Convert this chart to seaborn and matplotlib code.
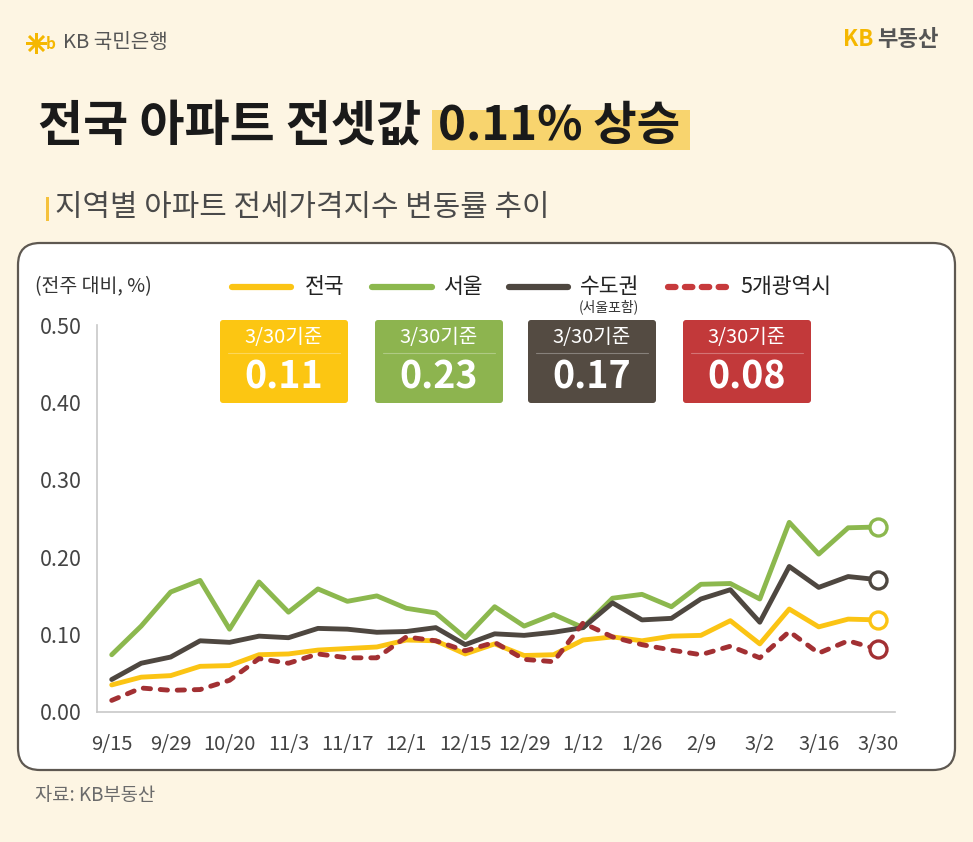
import numpy as np
import pandas as pd
import matplotlib
matplotlib.use("Agg")
import matplotlib.pyplot as plt
import seaborn as sns
from matplotlib.patches import FancyBboxPatch, Rectangle
from matplotlib.lines import Line2D
from matplotlib.transforms import IdentityTransform

# ---------------- data ----------------
dates = ['9/15', '9/22', '9/29', '10/13', '10/20', '10/27', '11/3', '11/10', '11/17',
         '11/24', '12/1', '12/8', '12/15', '12/22', '12/29', '1/5', '1/12', '1/19',
         '1/26', '2/2', '2/9', '2/23', '3/2', '3/9', '3/16', '3/23', '3/30']
national = [0.035, 0.045, 0.047, 0.059, 0.060, 0.074, 0.075, 0.080, 0.082, 0.084, 0.093,
            0.092, 0.075, 0.088, 0.073, 0.074, 0.093, 0.097, 0.092, 0.098, 0.099, 0.118,
            0.088, 0.133, 0.110, 0.120, 0.119]
seoul = [0.074, 0.111, 0.155, 0.170, 0.107, 0.168, 0.129, 0.159, 0.143, 0.150, 0.134,
         0.128, 0.096, 0.136, 0.111, 0.126, 0.109, 0.147, 0.152, 0.136, 0.165, 0.166,
         0.146, 0.245, 0.204, 0.238, 0.239]
capital = [0.042, 0.063, 0.071, 0.092, 0.090, 0.098, 0.096, 0.108, 0.107, 0.103, 0.104,
           0.109, 0.087, 0.101, 0.099, 0.103, 0.109, 0.141, 0.119, 0.121, 0.146, 0.158,
           0.116, 0.188, 0.161, 0.175, 0.171]
metro5 = [0.015, 0.031, 0.028, 0.029, 0.041, 0.069, 0.063, 0.075, 0.070, 0.070, 0.097,
          0.092, 0.079, 0.090, 0.068, 0.065, 0.115, 0.097, 0.087, 0.080, 0.074, 0.085,
          0.070, 0.104, 0.076, 0.092, 0.081]
regions = ['전국', '서울', '수도권', '5개광역시']
badge_values = ['0.11', '0.23', '0.17', '0.08']
badge_caption = '3/30기준'
yticks = [0.0, 0.1, 0.2, 0.3, 0.4, 0.5]

# ---------------- style ----------------
BG = '#FDF5E3'
line_col = {'전국': '#FBC414', '서울': '#8CB84E', '수도권': '#4E4740', '5개광역시': '#A23033'}
badge_col = {'전국': '#FCC612', '서울': '#8DB44F', '수도권': '#544B42', '5개광역시': '#C2393A'}
legend_col = {'전국': '#FBC414', '서울': '#8CB84E', '수도권': '#4E4740', '5개광역시': '#C73A3C'}

sns.set_theme(style='white')
plt.rcParams['font.family'] = ['Noto Sans CJK KR', 'DejaVu Sans']

W, H = 973, 842
fig = plt.figure(figsize=(W / 100, H / 100), dpi=100)
fig.patch.set_facecolor(BG)


def fx(x):
    return x / W


def fy(y):
    return 1 - y / H


ident = IdentityTransform()

# white rounded panel
panel = FancyBboxPatch((18, H - 770), 955 - 18, 770 - 243,
                       boxstyle='round,pad=0,rounding_size=22',
                       transform=ident, facecolor='white', edgecolor='#5E5851',
                       linewidth=1.6, zorder=-5)
fig.patches.append(panel)

# header
fig.add_artist(Line2D([fx(36)], [fy(43)], marker=(8, 2, 0), markersize=15,
                      color='#F5B700', markeredgewidth=1.8, transform=fig.transFigure))
fig.text(fx(46), fy(44), 'b', fontsize=11, color='#F5B700', va='center', ha='left',
         style='italic', fontweight='bold')
fig.text(fx(63), fy(43), 'KB 국민은행', fontsize=14.5, color='#555555', va='center', ha='left')
fig.text(fx(843), fy(40), 'KB', fontsize=16, color='#F5B700', va='center', ha='left',
         fontweight='bold')
fig.text(fx(877), fy(40), '부동산', fontsize=16, color='#555555', va='center', ha='left',
         fontweight='bold')

# title with highlight
fig.patches.append(Rectangle((432, H - 150), 258, 40, transform=ident,
                             facecolor='#F8D46E', edgecolor='none', zorder=-5))
fig.text(fx(38), fy(126), '전국 아파트 전셋값', fontsize=35.3, fontweight='bold',
         color='#1A1A1A', va='center', ha='left')
fig.text(fx(438), fy(126), '0.11% 상승', fontsize=34, fontweight='bold',
         color='#1A1A1A', va='center', ha='left')

# subtitle
fig.patches.append(Rectangle((46, H - 221), 3, 24, transform=ident,
                             facecolor='#F5C13C', edgecolor='none', zorder=-5))
fig.text(fx(55), fy(208), '지역별 아파트 전세가격지수 변동률 추이', fontsize=21.5,
         color='#4A4A4A', va='center', ha='left')

# source
fig.text(fx(35), fy(796), '자료: KB부동산', fontsize=13.5, color='#6B6B6B',
         va='center', ha='left')

# ---------------- chart ----------------
n = len(dates)
x0_px, x1_px = 97, 895
ax = fig.add_axes([fx(x0_px), fy(712), fx(x1_px) - fx(x0_px), fy(325) - fy(712)])
ax.set_facecolor('none')
ax.set_zorder(2)

series = {'전국': national, '서울': seoul, '수도권': capital, '5개광역시': metro5}
draw_order = ['서울', '전국', '수도권', '5개광역시']
df = pd.DataFrame({
    'idx': np.tile(np.arange(n), len(draw_order)),
    'value': np.concatenate([series[r] for r in draw_order]),
    'region': np.repeat(draw_order, n),
})
sns.lineplot(data=df, x='idx', y='value', hue='region', style='region',
             hue_order=draw_order, style_order=draw_order, palette=line_col,
             dashes={'서울': '', '전국': '', '수도권': '', '5개광역시': (1.5, 2.0)},
             linewidth=3.5, legend=False, ax=ax, sort=False)
for ln in ax.lines:
    ln.set_dash_capstyle('round')
    ln.set_solid_capstyle('round')
    ln.set_solid_joinstyle('round')
    ln.set_dash_joinstyle('round')

for r in draw_order:
    sns.scatterplot(x=[n - 1], y=[series[r][-1]], color='white', edgecolor=line_col[r],
                    linewidth=2.4, s=150, ax=ax, zorder=5, legend=False)

ax.set_xlim(-0.46, 26.59)
ax.set_ylim(0, 0.5)
ax.set_xticks(range(0, n, 2))
ax.set_xticklabels(dates[::2])
ax.set_xticks(np.arange(-0.5, n, 1.0), minor=True)
ax.set_yticks(yticks)
ax.set_yticklabels([f'{v:.2f}' for v in yticks])
ax.set_xlabel('')
ax.set_ylabel('')
ax.tick_params(axis='x', which='major', length=0, pad=16, labelsize=14.5, labelcolor='#444444')
ax.tick_params(axis='x', which='minor', length=4, width=1, color='#C4C4C4', direction='out')
ax.tick_params(axis='y', which='major', length=4, width=1, color='#C4C4C4', direction='in',
               pad=11, labelsize=15.5, labelcolor='#444444')
for s in ['top', 'right']:
    ax.spines[s].set_visible(False)
for s in ['left', 'bottom']:
    ax.spines[s].set_color('#C8C8C8')
    ax.spines[s].set_linewidth(1.2)
ax.grid(False)

# y-axis unit
fig.text(fx(35), fy(287), '(전주 대비, %)', fontsize=14, color='#333333',
         va='center', ha='left')

# legend (manual)
leg_items = [('전국', 232, 291, 305), ('서울', 372, 432, 444),
             ('수도권', 509, 568, 580), ('5개광역시', 668, 726, 740)]
for r, lx0, lx1, tx in leg_items:
    if r == '5개광역시':
        ln = Line2D([fx(lx0), fx(lx1)], [fy(287)] * 2, color=legend_col[r], lw=4.5,
                    dashes=(1.2, 1.5), dash_capstyle='round', transform=fig.transFigure)
    else:
        ln = Line2D([fx(lx0), fx(lx1)], [fy(287)] * 2, color=legend_col[r], lw=4.5,
                    solid_capstyle='round', transform=fig.transFigure)
    fig.add_artist(ln)
    fig.text(fx(tx), fy(287), r, fontsize=15.5, color='#222222', va='center', ha='left')
fig.text(fx(609), fy(307), '(서울포함)', fontsize=10, color='#333333',
         va='center', ha='center')

# badges
badge_x = {'전국': 220, '서울': 375, '수도권': 528, '5개광역시': 683}
bw, bt, bb = 128, 320, 403
for r, val in zip(regions, badge_values):
    bx = badge_x[r]
    fig.patches.append(FancyBboxPatch((bx, H - bb), bw, bb - bt,
                                      boxstyle='round,pad=0,rounding_size=3',
                                      transform=ident, facecolor=badge_col[r],
                                      edgecolor='none', zorder=-4))
    fig.add_artist(Line2D([fx(bx + 8), fx(bx + bw - 8)], [fy(353)] * 2,
                          color='white', alpha=0.3, lw=0.8, transform=fig.transFigure))
    fig.text(fx(bx + bw / 2), fy(337), badge_caption, fontsize=14.5, color='white',
             va='center', ha='center')
    fig.text(fx(bx + bw / 2), fy(377), val, fontsize=27, color='white',
             va='center', ha='center', fontweight='bold')

fig.savefig('out.png', dpi=100, facecolor=BG)
